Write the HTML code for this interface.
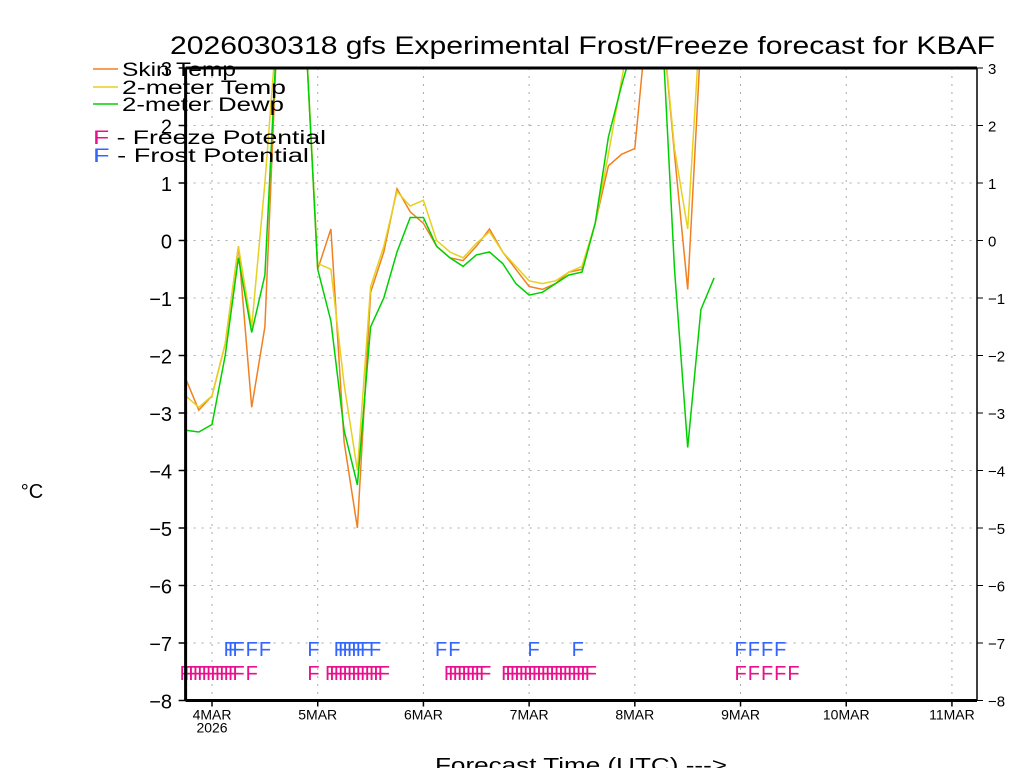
<!DOCTYPE html>
<html><head><meta charset="utf-8"><style>
body{margin:0;background:#fff;width:1024px;height:768px;overflow:hidden;font-family:"Liberation Sans",sans-serif}
svg text{font-family:"Liberation Sans",sans-serif}
</style></head><body>
<svg id="chart" width="1024" height="768" xmlns="http://www.w3.org/2000/svg">
<text x="170" y="54" font-size="25" textLength="825" lengthAdjust="spacingAndGlyphs" fill="#000">2026030318 gfs Experimental Frost/Freeze forecast for KBAF</text>
<text x="32" y="498" font-size="20" text-anchor="middle">°C</text>
<text x="435" y="772" font-size="20" textLength="292" lengthAdjust="spacingAndGlyphs">Forecast Time (UTC) ---&gt;</text>
<g id="grid"></g>
<g id="marks"></g>
<g id="axes"></g>
<g id="legend">
<line x1="93" y1="69" x2="118" y2="69" stroke="#f08020" stroke-width="1.5"/>
<text x="122" y="76" font-size="19" textLength="114" lengthAdjust="spacingAndGlyphs">Skin Temp</text>
<line x1="93" y1="87" x2="118" y2="87" stroke="#e6d020" stroke-width="1.5"/>
<text x="122" y="94" font-size="19" textLength="164" lengthAdjust="spacingAndGlyphs">2-meter Temp</text>
<line x1="93" y1="104" x2="118" y2="104" stroke="#00d000" stroke-width="1.5"/>
<text x="122" y="111" font-size="19" textLength="162" lengthAdjust="spacingAndGlyphs">2-meter Dewp</text>
<text x="93" y="144" font-size="19" textLength="233" lengthAdjust="spacingAndGlyphs"><tspan fill="#e8108c">F</tspan> - Freeze Potential</text>
<text x="93" y="162" font-size="19" textLength="216" lengthAdjust="spacingAndGlyphs"><tspan fill="#3366ff">F</tspan> - Frost Potential</text>
</g>
</svg>
<script>
const hours=[0,3,6,9,12,15,18,21,24,27,30,33,36,39,42,45,48,51,54,57,60,63,66,69,72,75,78,81,84,87,90,93,96,99,102,105,108,111,114,117,120];
const skinTemp=[-2.4,-2.95,-2.7,-1.8,-0.1,-2.9,-1.5,4,4,4,-0.5,0.2,-3.5,-5.0,-0.9,-0.2,0.9,0.5,0.3,-0.1,-0.3,-0.35,-0.1,0.2,-0.2,-0.5,-0.8,-0.85,-0.75,-0.55,-0.5,0.3,1.3,1.5,1.6,4,4,1.5,-0.85,3.5,null];
const temp2m=[-2.7,-2.9,-2.7,-1.8,-0.1,-1.5,1.0,4,4,4,-0.4,-0.5,-2.5,-4.0,-0.8,-0.1,0.85,0.6,0.7,0.0,-0.2,-0.3,-0.05,0.15,-0.2,-0.45,-0.7,-0.75,-0.7,-0.55,-0.45,0.3,1.5,2.8,4,4,4,1.6,0.2,4,null];
const dewp2m=[-3.3,-3.33,-3.2,-2.0,-0.3,-1.6,-0.6,4,4,4,-0.5,-1.4,-3.3,-4.25,-1.5,-1.0,-0.2,0.4,0.4,-0.1,-0.3,-0.45,-0.25,-0.2,-0.4,-0.75,-0.95,-0.9,-0.75,-0.6,-0.55,0.3,1.8,2.7,3.5,4,4,-0.5,-3.6,-1.2,-0.65];
const freezeHours=[0,1,2,3,4,5,6,7,8,9,10,11,12,15,29,33,34,35,36,37,38,39,40,41,42,43,44,45,60,61,62,63,64,65,66,67,68,73,74,75,76,77,78,79,80,81,82,83,84,85,86,87,88,89,90,91,92,126,129,132,135,138];
const frostHours=[10,11,12,15,18,29,35,36,37,38,39,40,41,43,58,61,79,89,126,129,132,135];
const yTicks=[3,2,1,0,-1,-2,-3,-4,-5,-6,-7,-8];
const dayLabels=["4MAR","5MAR","6MAR","7MAR","8MAR","9MAR","10MAR","11MAR"];
const dayHours=[6,30,54,78,102,126,150,174];

const NS="http://www.w3.org/2000/svg";
const L=185.6,R=977,T=68,B=700.5;
const X=h=>L+h*105.7/24;
const Y=v=>240.5-57.5*v;
function mk(tag,attrs,parent){const e=document.createElementNS(NS,tag);for(const k in attrs)e.setAttribute(k,attrs[k]);parent.appendChild(e);return e;}
const grid=document.getElementById('grid'),marks=document.getElementById('marks'),axes=document.getElementById('axes');
const svg=document.getElementById('chart');
const defs=mk('defs',{},svg);const cp=mk('clipPath',{id:'clip'},defs);mk('rect',{x:L,y:T,width:R-L,height:B-T},cp);
yTicks.forEach(v=>{
  const y=Y(v);
  const g=mk('line',{x1:L,x2:R,y1:y,y2:y,stroke:'#aaa','stroke-dasharray':'2,6'},grid);
  
  
  const lab=String(v).replace('-','−');
  const t1=mk('text',{x:172,y:y+8,'font-size':20,'text-anchor':'end'},axes);t1.textContent=lab;
  
  
  const t2=mk('text',{x:988,y:y+6,'font-size':15},axes);t2.textContent=lab;
  
  
  mk('line',{x1:L-7,x2:L,y1:y,y2:y,stroke:'#000','stroke-width':1.5},axes);
  mk('line',{x1:R,x2:R+6,y1:y,y2:y,stroke:'#000','stroke-width':1},axes);
});
dayHours.forEach((h,i)=>{
  const x=X(h);
  const g=mk('line',{x1:x,x2:x,y1:T,y2:B,stroke:'#aaa','stroke-dasharray':'2,6'},grid);
  
  
  mk('line',{x1:x,x2:x,y1:B,y2:B+6,stroke:'#000','stroke-width':1.5},axes);
  const t=mk('text',{x:x,y:B+19,'font-size':14,'text-anchor':'middle'},axes);t.textContent=dayLabels[i];
  
  
});
const yr=mk('text',{x:X(6),y:B+32,'font-size':14,'text-anchor':'middle'},axes);yr.textContent='2026';


mk('line',{x1:L,x2:R,y1:T,y2:T,stroke:'#000','stroke-width':3},axes);
mk('line',{x1:L,x2:R,y1:B,y2:B,stroke:'#000','stroke-width':3},axes);
mk('line',{x1:L,x2:L,y1:T,y2:B,stroke:'#000','stroke-width':3},axes);
mk('line',{x1:R,x2:R,y1:T,y2:B,stroke:'#000','stroke-width':1.5},axes);
function series(vals,color,name){
  let d='',pen=false;
  vals.forEach((v,i)=>{if(v===null){pen=false;return;}d+=(pen?'L':'M')+X(hours[i]).toFixed(1)+','+Y(v).toFixed(1);pen=true;});
  const p=mk('path',{d:d,fill:'none',stroke:color,'stroke-width':1.5,'clip-path':'url(#clip)'},marks);
  
  
}
series(skinTemp,'#f08020','skin-temp-line');
series(temp2m,'#e6d020','2m-temp-line');
series(dewp2m,'#00d000','2m-dewp-line');
freezeHours.forEach(h=>{
  const t=mk('text',{x:X(h)-6,y:680,'font-size':20,fill:'#e8108c'},marks);t.textContent='F';
  
  
});
frostHours.forEach(h=>{
  const t=mk('text',{x:X(h)-6,y:656,'font-size':20,fill:'#3366ff'},marks);t.textContent='F';
  
  
});
</script>
</body></html>
